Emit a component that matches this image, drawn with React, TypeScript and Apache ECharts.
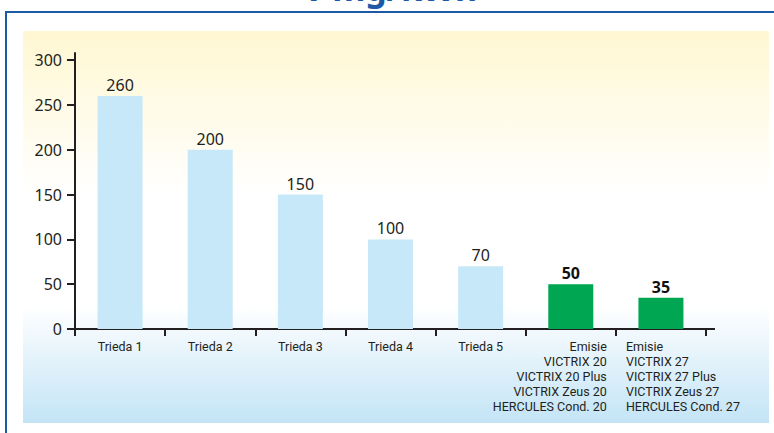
import React, { useEffect, useRef } from "react";
import * as echarts from "echarts";

const categories = [
  "Trieda 1",
  "Trieda 2",
  "Trieda 3",
  "Trieda 4",
  "Trieda 5",
  "Emisie\nVICTRIX 20\nVICTRIX 20 Plus\nVICTRIX Zeus 20\nHERCULES Cond. 20",
  "Emisie\nVICTRIX 27\nVICTRIX 27 Plus\nVICTRIX Zeus 27\nHERCULES Cond. 27",
];
const values = [260, 200, 150, 100, 70, 50, 35];
const highlighted = [false, false, false, false, false, true, true];
const yTickValues = [0, 50, 100, 150, 200, 250, 300];
const titleText = "v mg/kWh";

const TEXT = "#231f20";
const FONT = "'Noto Sans', sans-serif";
const CAT_FONT = "Roboto, 'Noto Sans', sans-serif";
const GRID = { left: 75, right: 68, top: 53, bottom: 104 };

export default function App() {
  const ref = useRef<HTMLDivElement>(null);
  useEffect(() => {
    if (!ref.current) return;
    const chart = echarts.init(ref.current, null, { renderer: "svg" });
    const W = 774;
    const H = 433;
    const axisEndX = W - GRID.right;
    const axisY = H - GRID.bottom;
    const catData = categories.map((c, i) => {
      if (i === 5) return { value: c, textStyle: { align: "right", padding: [0, -36, 0, 0] } };
      if (i === 6) return { value: c, textStyle: { align: "left", padding: [0, 0, 0, -35] } };
      return { value: c };
    });
    chart.setOption({
      animation: false,
      backgroundColor: "#ffffff",
      grid: { ...GRID },
      graphic: [
        {
          type: "rect",
          z: -10,
          silent: true,
          shape: { x: 6, y: 12, width: 820, height: 500 },
          style: { fill: "#ffffff", stroke: "#1d5aa6", lineWidth: 2 },
        },
        {
          type: "rect",
          z: -9,
          silent: true,
          shape: { x: 23, y: 31, width: 746, height: 392 },
          style: {
            fill: new echarts.graphic.LinearGradient(0, 0, 0, 1, [
              { offset: 0, color: "#fff7d2" },
              { offset: 0.42, color: "#ffffff" },
              { offset: 0.7, color: "#ffffff" },
              { offset: 1, color: "#c3e4f6" },
            ]),
          },
        },
        {
          type: "text",
          z: 5,
          silent: true,
          x: 477,
          y: -12,
          style: {
            text: titleText,
            fill: "#1d5aa6",
            font: "bold 34px 'Noto Sans', sans-serif",
            textAlign: "right",
            textVerticalAlign: "middle",
          },
        },
        {
          type: "line",
          z: 5,
          silent: true,
          shape: { x1: axisEndX - 1, y1: axisY, x2: axisEndX + 9, y2: axisY },
          style: { stroke: TEXT, lineWidth: 2 },
        },
      ],
      xAxis: {
        type: "category",
        data: catData,
        axisLine: { lineStyle: { color: TEXT, width: 2 } },
        axisTick: { show: true, length: 7, lineStyle: { color: TEXT, width: 2 }, alignWithLabel: false },
        axisLabel: {
          interval: 0,
          color: TEXT,
          fontFamily: CAT_FONT,
          fontSize: 12.5,
          lineHeight: 15,
          margin: 10,
          verticalAlign: "top",
        },
        splitLine: { show: false },
      },
      yAxis: {
        type: "value",
        min: 0,
        max: 308,
        axisLine: { show: true, lineStyle: { color: TEXT, width: 2 } },
        axisTick: { show: true, length: 8, lineStyle: { color: TEXT, width: 2 }, customValues: yTickValues },
        axisLabel: { color: TEXT, fontFamily: FONT, fontSize: 16, margin: 13, customValues: yTickValues },
        splitLine: { show: false },
      },
      series: [
        {
          type: "bar",
          barWidth: 45,
          data: values.map((v, i) => ({
            value: v,
            itemStyle: { color: highlighted[i] ? "#00a651" : "#c7e8f8" },
            label: highlighted[i] ? { fontWeight: "bold", color: "#111111" } : {},
          })),
          label: {
            show: true,
            position: "top",
            distance: 3,
            color: TEXT,
            fontFamily: FONT,
            fontSize: 16,
          },
        },
      ],
    });
    return () => chart.dispose();
  }, []);
  return (
    <div
      ref={ref}
      style={{ position: "absolute", left: 0, top: 0, width: 774, height: 433 }}
    />
  );
}
